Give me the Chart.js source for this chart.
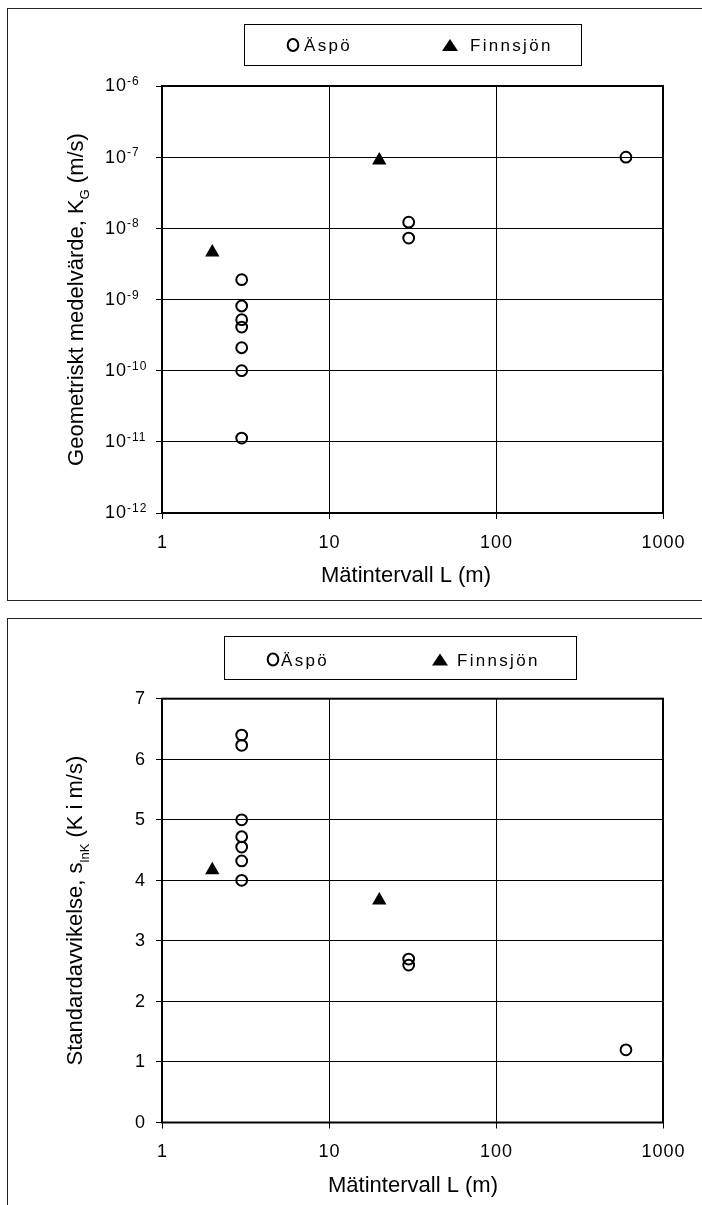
<!DOCTYPE html>
<html><head><meta charset="utf-8">
<script src="https://cdn.jsdelivr.net/npm/chart.js@4.4.1/dist/chart.umd.min.js"></script>
<style>
html,body{margin:0;padding:0;background:#fff;}
body{width:702px;height:1205px;position:relative;overflow:hidden;}
.box{position:absolute;border:1px solid #222;box-sizing:border-box;}
#b1{left:7px;top:8px;width:720px;height:593px;}
#b2{left:7px;top:618px;width:720px;height:620px;}
.cw{position:absolute;left:0;width:702px;}
#w1{top:0;height:609px;}
#w2{top:609px;height:596px;}
</style></head><body>
<div class="box" id="b1"></div><div class="box" id="b2"></div>
<div class="cw" id="w1"><canvas id="c1"></canvas></div>
<div class="cw" id="w2"><canvas id="c2"></canvas></div>
<script>
const FONT = '"Liberation Sans", Arial, Helvetica, sans-serif';

// ---- data ----
const seriesNames = ['Äspö', 'Finnsjön'];
const intervalTicks = [1, 10, 100, 1000];
const intervalTickLabels = ['1', '10', '100', '1000'];
const kgTicks = [1e-12, 1e-11, 1e-10, 1e-9, 1e-8, 1e-7, 1e-6];
const kgTickExponents = ['-12', '-11', '-10', '-9', '-8', '-7', '-6'];
const sdTicks = [0, 1, 2, 3, 4, 5, 6, 7];
const sdTickLabels = ['0', '1', '2', '3', '4', '5', '6', '7'];

const aspoL  = [3, 3, 3, 3, 3, 3, 3, 30, 30, 600];
const aspoKG = [1.9e-9, 8.1e-10, 5.2e-10, 4.1e-10, 2.1e-10, 1.0e-10, 1.13e-11, 1.22e-8, 7.3e-9, 1.0e-7];
const finnL  = [2, 20];
const finnKG = [4.6e-9, 9.0e-8];

const aspoSdL = [3, 3, 3, 3, 3, 3, 3, 30, 30, 600];
const aspoSd  = [6.40, 6.23, 5.0, 4.72, 4.55, 4.32, 4.0, 2.7, 2.6, 1.2];
const finnSdL = [2, 20];
const finnSd  = [4.17, 3.67];

const xTitle = 'Mätintervall L (m)';
const yTitle1 = [['Geometriskt medelvärde, K', 22, 0], ['G', 13, 6], [' (m/s)', 22, 0]];
const yTitle2 = [['Standardavvikelse, s', 22, 0], ['lnK', 13, 7], [' (K i m/s)', 22, 0]];

function pts(xs, ys) { return xs.map((x, i) => ({x: x, y: ys[i]})); }

function datasets(aL, aV, fL, fV) {
  return [
    {label: seriesNames[0], data: pts(aL, aV), pointStyle: 'circle', pointRadius: 5.4, pointHoverRadius: 5.4,
     pointBorderWidth: 2, borderColor: '#000', backgroundColor: 'rgba(0,0,0,0)', showLine: false},
    {label: seriesNames[1], data: pts(fL, fV), pointStyle: 'triangle', pointRadius: 8.3, pointHoverRadius: 8.3,
     pointBorderWidth: 0, borderColor: '#000', backgroundColor: '#000', showLine: false}
  ];
}

function font(sz) { return sz + 'px ' + FONT; }
function spacing(ctx, v) { try { ctx.letterSpacing = v; } catch (e) {} }

function drawLegend(ctx, L) {
  ctx.save();
  ctx.strokeStyle = '#000'; ctx.lineWidth = 1;
  ctx.strokeRect(L.x + 0.5, L.y + 0.5, L.w, L.h);
  ctx.lineWidth = 2;
  ctx.beginPath(); ctx.ellipse(L.cx, L.cy, 5.3, 6, 0, 0, Math.PI * 2); ctx.stroke();
  ctx.fillStyle = '#000';
  ctx.font = font(17);
  spacing(ctx, '2.3px');
  ctx.textBaseline = 'alphabetic'; ctx.textAlign = 'left';
  ctx.fillText(seriesNames[0], L.t1, L.base);
  ctx.beginPath();
  ctx.moveTo(L.tx, L.base - 12); ctx.lineTo(L.tx + 8, L.base); ctx.lineTo(L.tx - 8, L.base); ctx.closePath(); ctx.fill();
  ctx.fillText(seriesNames[1], L.t2, L.base);
  ctx.restore();
}

function drawYTitle(ctx, x, y, parts) {
  ctx.save();
  ctx.translate(x, y); ctx.rotate(-Math.PI / 2);
  ctx.fillStyle = '#000'; ctx.textBaseline = 'alphabetic'; ctx.textAlign = 'left';
  let total = 0;
  parts.forEach(p => { ctx.font = font(p[1]); total += ctx.measureText(p[0]).width; });
  let cx = -total / 2;
  parts.forEach(p => { ctx.font = font(p[1]); ctx.fillText(p[0], cx, p[2]); cx += ctx.measureText(p[0]).width; });
  ctx.restore();
}

function makePlugin(cfg) {
  return {
    id: 'deco',
    afterDraw(chart) {
      const ctx = chart.ctx, a = chart.chartArea, xs = chart.scales.x, ys = chart.scales.y;
      ctx.save();
      // frame
      ctx.strokeStyle = '#000'; ctx.lineWidth = 2;
      ctx.strokeRect(a.left, a.top, a.right - a.left, a.bottom - a.top);
      ctx.fillStyle = '#000';
      spacing(ctx, '1px');
      // x tick labels
      ctx.font = font(18); ctx.textAlign = 'center'; ctx.textBaseline = 'middle';
      intervalTicks.forEach((v, i) => ctx.fillText(intervalTickLabels[i], xs.getPixelForValue(v) + 0.5, a.bottom + 30));
      // y tick labels
      if (cfg.log) {
        kgTicks.forEach((v, i) => {
          const y = ys.getPixelForValue(v);
          ctx.font = font(18); ctx.textAlign = 'left'; ctx.textBaseline = 'middle';
          ctx.fillText('10', 105, y + 0.5);
          const w = ctx.measureText('10').width;
          ctx.font = font(12); ctx.textBaseline = 'alphabetic';
          ctx.fillText(kgTickExponents[i], 105 + w, y - 1);
        });
      } else {
        ctx.font = font(18); ctx.textAlign = 'right'; ctx.textBaseline = 'middle';
        sdTicks.forEach((v, i) => ctx.fillText(sdTickLabels[i], 146, ys.getPixelForValue(v) + 0.5));
      }
      spacing(ctx, '0px');
      // x title
      ctx.font = font(22); ctx.textAlign = 'center'; ctx.textBaseline = 'middle';
      ctx.fillText(xTitle, cfg.xtx, a.bottom + 63);
      ctx.restore();
      drawYTitle(ctx, cfg.ytx, (a.top + a.bottom) / 2, cfg.yTitle);
      drawLegend(ctx, cfg.legend);
    }
  };
}

function gridOpts() {
  return {color: '#000', lineWidth: 1, tickLength: 6, drawTicks: true, tickColor: '#000', tickWidth: 1};
}

function makeChart(id, cfg) {
  return new Chart(document.getElementById(id), {
    type: 'scatter',
    data: {datasets: datasets(cfg.aL, cfg.aV, cfg.fL, cfg.fV)},
    options: {
      responsive: true, maintainAspectRatio: false, animation: false, events: [],
      layout: {padding: {top: cfg.padTop, right: 39, left: 0, bottom: 0}},
      plugins: {legend: {display: false}, tooltip: {enabled: false}},
      scales: {
        x: {type: 'logarithmic', min: 1, max: 1000,
            afterBuildTicks: s => { s.ticks = intervalTicks.map(v => ({value: v})); },
            afterFit: s => { s.height = cfg.xh; },
            ticks: {display: false}, grid: gridOpts(), border: {display: false}},
        y: cfg.log ?
           {type: 'logarithmic', min: 1e-12, max: 1e-6,
            afterBuildTicks: s => { s.ticks = kgTicks.map(v => ({value: v})); },
            afterFit: s => { s.width = 162; },
            ticks: {display: false}, grid: gridOpts(), border: {display: false}} :
           {type: 'linear', min: 0, max: 7,
            afterBuildTicks: s => { s.ticks = sdTicks.map(v => ({value: v})); },
            afterFit: s => { s.width = 162; },
            ticks: {display: false}, grid: gridOpts(), border: {display: false}}
      }
    },
    plugins: [makePlugin(cfg)]
  });
}

makeChart('c1', {aL: aspoL, aV: aspoKG, fL: finnL, fV: finnKG, log: true, padTop: 86, xh: 96,
  xtx: 406, ytx: 83, yTitle: yTitle1,
  legend: {x: 244, y: 24, w: 337, h: 41, cx: 293, cy: 45, t1: 304, tx: 450, t2: 470, base: 51}});
makeChart('c2', {aL: aspoSdL, aV: aspoSd, fL: finnSdL, fV: finnSd, log: false, padTop: 89.7, xh: 82.5,
  xtx: 413, ytx: 82, yTitle: yTitle2,
  legend: {x: 224, y: 27, w: 352, h: 43, cx: 273, cy: 50.5, t1: 281, tx: 440, t2: 457, base: 56.5}});
</script>
</body></html>
